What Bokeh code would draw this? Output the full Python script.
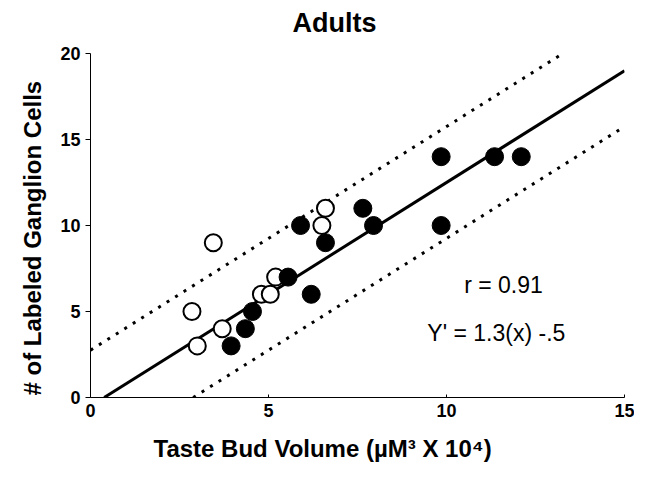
from bokeh.plotting import figure
from bokeh.models import Range1d, Label, Title, FixedTicker
from bokeh.embed import file_html
from bokeh.resources import INLINE

# ---- data ----
filled_x = [3.95, 4.35, 4.55, 5.55, 6.2, 5.9, 6.6, 7.65, 7.95, 9.85, 9.85, 11.35, 12.1]
filled_y = [3, 4, 5, 7, 6, 10, 9, 11, 10, 14, 10, 14, 14]
open_x = [2.85, 3.0, 3.45, 3.7, 4.8, 5.05, 5.2, 6.5, 6.6]
open_y = [5, 3, 9, 4, 6, 6, 7, 10, 11]

slope = 1.3
intercept = -0.5
band = 3.25
fit_x = [0.385, 15.0]
upper_x = [0.0, 13.2]
lower_x = [2.885, 14.9]

x_ticks = [0, 5, 10, 15]
y_ticks = [0, 5, 10, 15, 20]

title_text = "Adults"
x_label = "Taste Bud Volume (\u00b5M\u00b3 X 10\u2074)"
y_label = "# of Labeled Ganglion Cells"
r_text = "r = 0.91"
eq_text = "Y' = 1.3(x) -.5"

FONT = "Liberation Sans"

p = figure(width=634, height=462, output_backend="svg", toolbar_location=None,
           x_range=Range1d(0, 15), y_range=Range1d(0, 20),
           min_border_left=90, min_border_right=10, min_border_top=53, min_border_bottom=65)
p.outline_line_color = None
p.background_fill_color = "white"
p.border_fill_color = "white"
p.xgrid.visible = False
p.ygrid.visible = False

# padding order here: (left, right, top, bottom)
p.title.text = title_text
p.title.text_font = FONT
p.title.text_font_size = "27px"
p.title.text_font_style = "bold"
p.title.align = "left"
p.title.offset = 202
p.title.standoff = 0
p.title.padding = (0, 0, 0, 16)
p.title.vertical_align = "bottom"
p.title.text_color = "black"

# axes
xa = p.xaxis[0]
xa.ticker = FixedTicker(ticks=x_ticks)
xa.major_tick_in = 3
xa.major_tick_out = 0
xa.minor_tick_line_color = None
xa.major_label_standoff = 6
xa.major_label_text_font = FONT
xa.major_label_text_font_style = "bold"
xa.major_label_text_font_size = "18px"
xa.major_label_text_color = "black"
xa.axis_line_width = 1
xa.axis_line_color = "black"
xa.major_tick_line_color = "black"

ya = p.yaxis[0]
ya.ticker = FixedTicker(ticks=y_ticks)
ya.major_tick_in = 0
ya.major_tick_out = 5
ya.minor_tick_line_color = None
ya.major_label_standoff = 5
ya.major_label_text_font = FONT
ya.major_label_text_font_style = "bold"
ya.major_label_text_font_size = "18px"
ya.major_label_text_color = "black"
ya.axis_line_width = 1
ya.axis_line_color = "black"
ya.major_tick_line_color = "black"

yt = Title(text=y_label, align="left", offset=2, text_font=FONT, text_font_style="bold",
           text_font_size="24px", text_color="black", standoff=24)
p.add_layout(yt, "left")

xt = Title(text=x_label, align="left", offset=63, text_font=FONT, text_font_style="bold",
           text_font_size="24px", text_color="black", standoff=0, vertical_align="bottom",
           padding=(0, 0, 13, 0))
p.add_layout(xt, "below")

# regression + band lines
p.line(fit_x, [slope * x + intercept for x in fit_x], line_color="black", line_width=3)
p.line(upper_x, [slope * x + intercept + band for x in upper_x], line_color="black",
       line_width=3, line_dash="3 7")
p.line(lower_x, [slope * x + intercept - band for x in lower_x], line_color="black",
       line_width=3, line_dash="3 7")

# points
p.scatter(open_x, open_y, marker="circle", size=17, fill_color="white",
          line_color="black", line_width=2)
p.scatter(filled_x, filled_y, marker="circle", size=18, fill_color="black",
          line_color="black")

p.add_layout(Label(x=11.6, y=6.55, text=r_text, text_align="center", text_baseline="middle",
                   text_font=FONT, text_font_size="23px", text_color="black"))
p.add_layout(Label(x=11.4, y=3.75, text=eq_text, text_align="center", text_baseline="middle",
                   text_font=FONT, text_font_size="23px", text_color="black"))

open("out.html", "w").write(file_html(p, INLINE))
